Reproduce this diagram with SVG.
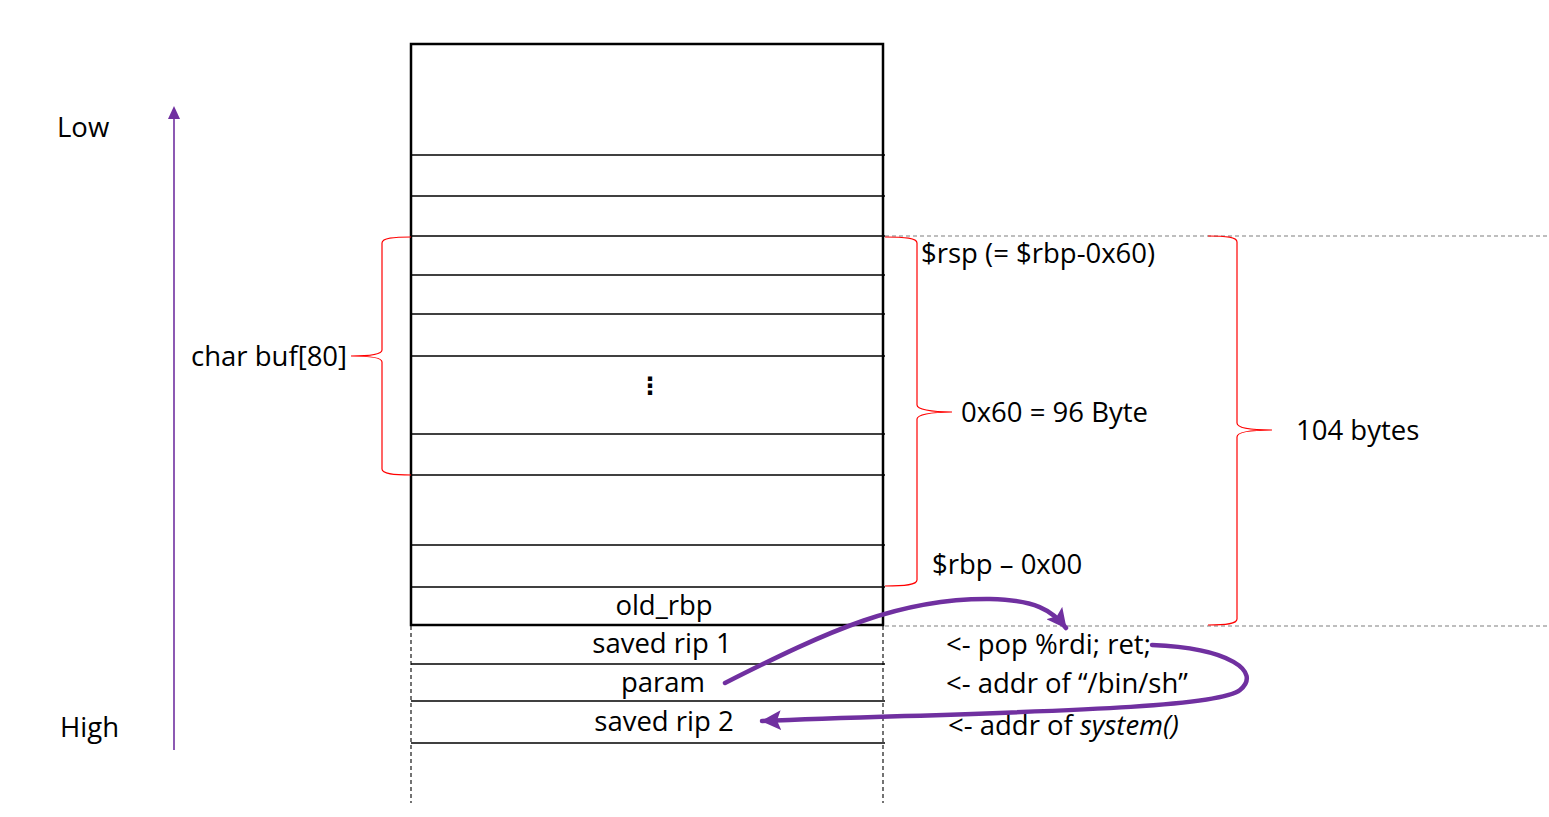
<svg xmlns="http://www.w3.org/2000/svg" width="1549" height="817" viewBox="0 0 1549 817">
<style>
text{font-family:"Open Sans","Liberation Sans",sans-serif;font-size:27.5px;fill:#000}
.c{text-anchor:middle}
.row{stroke:#000;stroke-width:1.3}
.dash{stroke:#000;stroke-width:1.1;stroke-dasharray:4 3;fill:none}
.gdash{stroke:#7f7f7f;stroke-width:1.2;stroke-dasharray:4 3;fill:none}
.brace{stroke:#ff0000;stroke-width:1.2;fill:none}
.flow{stroke:#7030A0;stroke-width:4.5;fill:none;stroke-linecap:round}
</style>
<defs>
<marker id="ah" markerUnits="userSpaceOnUse" markerWidth="22" markerHeight="20" refX="19" refY="10" orient="auto">
<path d="M0,0 L20,10 L0,20 L4,10 Z" fill="#7030A0"/>
</marker>
</defs>
<rect width="1549" height="817" fill="#fff"/>

<g id="axis">
<line x1="174" y1="750" x2="174" y2="116" stroke="#7030A0" stroke-width="1.6"/>
<path d="M174,106 L180,119 L168,119 Z" fill="#7030A0"/>
<text x="57" y="137">Low</text>
<text x="60" y="737">High</text>
</g>

<g id="stack">
<line class="row" x1="411" y1="155" x2="885" y2="155"/>
<line class="row" x1="411" y1="196" x2="885" y2="196"/>
<line class="row" x1="411" y1="236" x2="885" y2="236"/>
<line class="row" x1="411" y1="275" x2="885" y2="275"/>
<line class="row" x1="411" y1="314" x2="885" y2="314"/>
<line class="row" x1="411" y1="356" x2="885" y2="356"/>
<line class="row" x1="411" y1="434" x2="885" y2="434"/>
<line class="row" x1="411" y1="475" x2="885" y2="475"/>
<line class="row" x1="411" y1="545" x2="885" y2="545"/>
<line class="row" x1="411" y1="587" x2="885" y2="587"/>
<rect x="411" y="44" width="472" height="581" fill="none" stroke="#000" stroke-width="2.5"/>
<text class="c" x="650" y="394" style="font-family:'DejaVu Sans',sans-serif;font-size:24px;font-weight:bold">⋮</text>
<text class="c" x="664" y="615">old_rbp</text>
</g>

<g id="below">
<line class="dash" x1="411" y1="626" x2="411" y2="803"/>
<line class="dash" x1="883" y1="626" x2="883" y2="803"/>
<line class="row" x1="411" y1="664" x2="885" y2="664"/>
<line class="row" x1="411" y1="701" x2="885" y2="701"/>
<line class="row" x1="411" y1="743" x2="885" y2="743"/>
<text class="c" x="662" y="653">saved rip 1</text>
<text class="c" x="663" y="692">param</text>
<text class="c" x="664" y="731">saved rip 2</text>
</g>

<g id="guides">
<line class="gdash" x1="885" y1="236" x2="1549" y2="236"/>
<line class="gdash" x1="885" y1="626" x2="1549" y2="626"/>
</g>

<g id="brace-buf">
<path class="brace" d="M411,237 C394,237 382,238 382,243 L382,350 C382,354 370,356 351,356 C370,356 382,358 382,362 L382,469 C382,474 394,475 411,475"/>
<text x="191" y="366">char buf[80]</text>
</g>

<g id="brace-0x60">
<path class="brace" d="M885,237 C905,237 917,238 917,243 L917,405 C917,409 930,412 952,412 C930,412 917,415 917,419 L917,580 C917,585 905,586 885,586"/>
<text x="921" y="263">$rsp (= $rbp-0x60)</text>
<text x="961" y="422">0x60 = 96 Byte</text>
<text x="932" y="574">$rbp – 0x00</text>
</g>

<g id="brace-104">
<path class="brace" d="M1208,236 C1226,236 1237,237 1237,242 L1237,423 C1237,428 1250,430 1272,430 C1250,430 1237,432 1237,437 L1237,619 C1237,624 1226,625 1208,625"/>
<text x="1296" y="440">104 bytes</text>
</g>

<g id="gadgets">
<text x="946" y="654">&lt;- pop %rdi; ret;</text>
<text x="946" y="693">&lt;- addr of “/bin/sh”</text>
<text x="948" y="735">&lt;- addr of <tspan font-style="italic">system()</tspan></text>
</g>

<g id="connectors">
<path class="flow" d="M725,683 C830,630 900,598 990,599 C1035,600 1052,610 1066,628" marker-end="url(#ah)"/>
<path class="flow" d="M1152,645 C1230,648 1262,672 1240,690 C1215,710 1000,712 762,721" marker-end="url(#ah)"/>
</g>
</svg>
